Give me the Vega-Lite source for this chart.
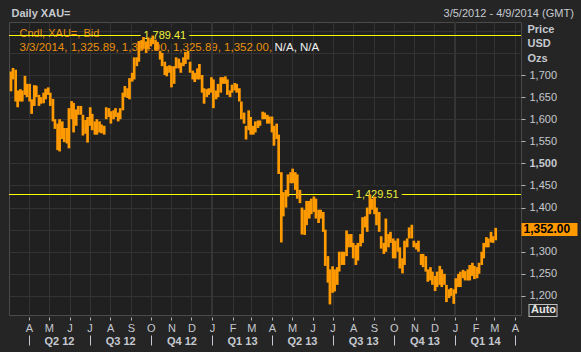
{
  "$schema": "https://vega.github.io/schema/vega-lite/v6.json",
  "width": 512,
  "height": 293,
  "autosize": {"type": "none"},
  "padding": {"left": 9, "top": 22, "right": 60, "bottom": 37},
  "background": "#252525",
  "view": {"fill": "#202020", "stroke": "#4a4a4a", "strokeWidth": 1},
  "config": {"font": "Liberation Sans", "axis": {"labelFont": "Liberation Sans", "titleFont": "Liberation Sans"}, "text": {"font": "Liberation Sans"}},
  "resolve": {"axis": {"x": "independent", "y": "independent"}},
  "datasets": {
    "yr": [{"d": "2013-01-01"}, {"d": "2014-01-01"}],
    "lv": [{"v": 1789.41, "d": "2012-10-22"}, {"v": 1429.51, "d": "2013-09-06"}],
    "px": [
      {"d":"2012-03-05","lo":1663,"hi":1708},{"d":"2012-03-08","lo":1690,"hi":1716},
      {"d":"2012-03-12","lo":1640,"hi":1712},{"d":"2012-03-15","lo":1627,"hi":1665},
      {"d":"2012-03-19","lo":1640,"hi":1668},{"d":"2012-03-22","lo":1640,"hi":1665},
      {"d":"2012-03-26","lo":1655,"hi":1698},{"d":"2012-03-29","lo":1650,"hi":1680},
      {"d":"2012-04-02","lo":1640,"hi":1680},{"d":"2012-04-05","lo":1612,"hi":1645},
      {"d":"2012-04-09","lo":1630,"hi":1677},{"d":"2012-04-12","lo":1650,"hi":1676},
      {"d":"2012-04-16","lo":1630,"hi":1655},{"d":"2012-04-19","lo":1635,"hi":1650},
      {"d":"2012-04-23","lo":1636,"hi":1660},{"d":"2012-04-26","lo":1645,"hi":1669},
      {"d":"2012-04-30","lo":1655,"hi":1672},{"d":"2012-05-03","lo":1630,"hi":1660},
      {"d":"2012-05-07","lo":1595,"hi":1646},{"d":"2012-05-10","lo":1578,"hi":1600},
      {"d":"2012-05-14","lo":1530,"hi":1590},{"d":"2012-05-17","lo":1527,"hi":1600},
      {"d":"2012-05-21","lo":1555,"hi":1595},{"d":"2012-05-24","lo":1548,"hi":1580},
      {"d":"2012-05-28","lo":1545,"hi":1580},{"d":"2012-05-31","lo":1534,"hi":1625},
      {"d":"2012-06-04","lo":1600,"hi":1641},{"d":"2012-06-07","lo":1570,"hi":1637},
      {"d":"2012-06-11","lo":1585,"hi":1622},{"d":"2012-06-14","lo":1610,"hi":1630},
      {"d":"2012-06-18","lo":1610,"hi":1630},{"d":"2012-06-21","lo":1563,"hi":1610},
      {"d":"2012-06-25","lo":1567,"hi":1598},{"d":"2012-06-28","lo":1547,"hi":1605},
      {"d":"2012-07-02","lo":1585,"hi":1627},{"d":"2012-07-05","lo":1575,"hi":1612},
      {"d":"2012-07-09","lo":1565,"hi":1595},{"d":"2012-07-12","lo":1565,"hi":1600},
      {"d":"2012-07-16","lo":1570,"hi":1595},{"d":"2012-07-19","lo":1568,"hi":1588},
      {"d":"2012-07-23","lo":1565,"hi":1585},{"d":"2012-07-26","lo":1600,"hi":1627},
      {"d":"2012-07-30","lo":1605,"hi":1625},{"d":"2012-08-02","lo":1590,"hi":1618},
      {"d":"2012-08-06","lo":1600,"hi":1620},{"d":"2012-08-09","lo":1605,"hi":1625},
      {"d":"2012-08-13","lo":1595,"hi":1615},{"d":"2012-08-16","lo":1600,"hi":1625},
      {"d":"2012-08-20","lo":1620,"hi":1660},{"d":"2012-08-23","lo":1650,"hi":1675},
      {"d":"2012-08-27","lo":1648,"hi":1670},{"d":"2012-08-30","lo":1645,"hi":1693},
      {"d":"2012-09-03","lo":1685,"hi":1705},{"d":"2012-09-06","lo":1690,"hi":1740},
      {"d":"2012-09-10","lo":1720,"hi":1740},{"d":"2012-09-13","lo":1730,"hi":1777},
      {"d":"2012-09-17","lo":1757,"hi":1779},{"d":"2012-09-20","lo":1760,"hi":1786},
      {"d":"2012-09-24","lo":1750,"hi":1776},{"d":"2012-09-27","lo":1760,"hi":1785},
      {"d":"2012-10-01","lo":1765,"hi":1781},{"d":"2012-10-04","lo":1770,"hi":1789.41},
      {"d":"2012-10-08","lo":1755,"hi":1780},{"d":"2012-10-11","lo":1757,"hi":1775},
      {"d":"2012-10-15","lo":1735,"hi":1755},{"d":"2012-10-18","lo":1720,"hi":1750},
      {"d":"2012-10-22","lo":1700,"hi":1730},{"d":"2012-10-25","lo":1697,"hi":1720},
      {"d":"2012-10-29","lo":1705,"hi":1722},{"d":"2012-11-01","lo":1672,"hi":1720},
      {"d":"2012-11-05","lo":1680,"hi":1720},{"d":"2012-11-08","lo":1715,"hi":1740},
      {"d":"2012-11-12","lo":1715,"hi":1737},{"d":"2012-11-15","lo":1705,"hi":1728},
      {"d":"2012-11-19","lo":1720,"hi":1740},{"d":"2012-11-22","lo":1725,"hi":1752},
      {"d":"2012-11-26","lo":1735,"hi":1755},{"d":"2012-11-29","lo":1705,"hi":1730},
      {"d":"2012-12-03","lo":1690,"hi":1710},{"d":"2012-12-06","lo":1684,"hi":1705},
      {"d":"2012-12-10","lo":1690,"hi":1715},{"d":"2012-12-13","lo":1690,"hi":1725},
      {"d":"2012-12-17","lo":1660,"hi":1700},{"d":"2012-12-20","lo":1635,"hi":1670},
      {"d":"2012-12-24","lo":1650,"hi":1668},{"d":"2012-12-27","lo":1655,"hi":1670},
      {"d":"2012-12-31","lo":1660,"hi":1695},{"d":"2013-01-03","lo":1625,"hi":1690},
      {"d":"2013-01-07","lo":1645,"hi":1665},{"d":"2013-01-10","lo":1650,"hi":1680},
      {"d":"2013-01-14","lo":1660,"hi":1695},{"d":"2013-01-17","lo":1680,"hi":1695},
      {"d":"2013-01-21","lo":1680,"hi":1697},{"d":"2013-01-24","lo":1655,"hi":1690},
      {"d":"2013-01-28","lo":1650,"hi":1665},{"d":"2013-01-31","lo":1660,"hi":1678},
      {"d":"2013-02-04","lo":1665,"hi":1682},{"d":"2013-02-07","lo":1660,"hi":1680},
      {"d":"2013-02-11","lo":1640,"hi":1670},{"d":"2013-02-14","lo":1600,"hi":1640},
      {"d":"2013-02-18","lo":1590,"hi":1615},{"d":"2013-02-21","lo":1554,"hi":1585},
      {"d":"2013-02-25","lo":1575,"hi":1620},{"d":"2013-02-28","lo":1565,"hi":1605},
      {"d":"2013-03-04","lo":1565,"hi":1585},{"d":"2013-03-07","lo":1570,"hi":1595},
      {"d":"2013-03-11","lo":1580,"hi":1597},{"d":"2013-03-14","lo":1585,"hi":1597},
      {"d":"2013-03-18","lo":1600,"hi":1617},{"d":"2013-03-21","lo":1600,"hi":1615},
      {"d":"2013-03-25","lo":1590,"hi":1610},{"d":"2013-03-28","lo":1590,"hi":1606},
      {"d":"2013-04-01","lo":1570,"hi":1606},{"d":"2013-04-04","lo":1540,"hi":1585},
      {"d":"2013-04-08","lo":1555,"hi":1590},{"d":"2013-04-11","lo":1476,"hi":1565},
      {"d":"2013-04-15","lo":1321,"hi":1480},{"d":"2013-04-18","lo":1380,"hi":1435},
      {"d":"2013-04-22","lo":1400,"hi":1440},{"d":"2013-04-25","lo":1425,"hi":1475},
      {"d":"2013-04-29","lo":1455,"hi":1480},{"d":"2013-05-02","lo":1455,"hi":1488},
      {"d":"2013-05-06","lo":1440,"hi":1480},{"d":"2013-05-09","lo":1420,"hi":1475},
      {"d":"2013-05-13","lo":1410,"hi":1440},{"d":"2013-05-16","lo":1339,"hi":1400},
      {"d":"2013-05-20","lo":1338,"hi":1395},{"d":"2013-05-23","lo":1360,"hi":1415},
      {"d":"2013-05-27","lo":1375,"hi":1415},{"d":"2013-05-30","lo":1385,"hi":1420},
      {"d":"2013-06-03","lo":1390,"hi":1425},{"d":"2013-06-06","lo":1375,"hi":1420},
      {"d":"2013-06-10","lo":1365,"hi":1395},{"d":"2013-06-13","lo":1375,"hi":1395},
      {"d":"2013-06-17","lo":1345,"hi":1390},{"d":"2013-06-20","lo":1268,"hi":1350},
      {"d":"2013-06-24","lo":1230,"hi":1290},{"d":"2013-06-27","lo":1180.71,"hi":1260},
      {"d":"2013-07-01","lo":1207,"hi":1267},{"d":"2013-07-04","lo":1210,"hi":1260},
      {"d":"2013-07-08","lo":1225,"hi":1265},{"d":"2013-07-11","lo":1255,"hi":1300},
      {"d":"2013-07-15","lo":1270,"hi":1300},{"d":"2013-07-18","lo":1270,"hi":1300},
      {"d":"2013-07-22","lo":1290,"hi":1348},{"d":"2013-07-25","lo":1310,"hi":1340},
      {"d":"2013-07-29","lo":1310,"hi":1340},{"d":"2013-08-01","lo":1285,"hi":1320},
      {"d":"2013-08-05","lo":1270,"hi":1315},{"d":"2013-08-08","lo":1280,"hi":1320},
      {"d":"2013-08-12","lo":1312,"hi":1340},{"d":"2013-08-15","lo":1320,"hi":1378},
      {"d":"2013-08-19","lo":1355,"hi":1380},{"d":"2013-08-22","lo":1345,"hi":1400},
      {"d":"2013-08-26","lo":1385,"hi":1429.51},{"d":"2013-08-29","lo":1395,"hi":1420},
      {"d":"2013-09-02","lo":1385,"hi":1425},{"d":"2013-09-05","lo":1360,"hi":1400},
      {"d":"2013-09-09","lo":1345,"hi":1390},{"d":"2013-09-12","lo":1307,"hi":1335},
      {"d":"2013-09-16","lo":1295,"hi":1320},{"d":"2013-09-19","lo":1300,"hi":1375},
      {"d":"2013-09-23","lo":1310,"hi":1340},{"d":"2013-09-26","lo":1320,"hi":1345},
      {"d":"2013-09-30","lo":1285,"hi":1330},{"d":"2013-10-03","lo":1285,"hi":1325},
      {"d":"2013-10-07","lo":1300,"hi":1330},{"d":"2013-10-10","lo":1262,"hi":1310},
      {"d":"2013-10-14","lo":1251,"hi":1285},{"d":"2013-10-17","lo":1270,"hi":1325},
      {"d":"2013-10-21","lo":1310,"hi":1330},{"d":"2013-10-24","lo":1330,"hi":1355},
      {"d":"2013-10-28","lo":1330,"hi":1361},{"d":"2013-10-31","lo":1310,"hi":1325},
      {"d":"2013-11-04","lo":1305,"hi":1320},{"d":"2013-11-07","lo":1300,"hi":1325},
      {"d":"2013-11-11","lo":1270,"hi":1295},{"d":"2013-11-14","lo":1265,"hi":1295},
      {"d":"2013-11-18","lo":1255,"hi":1290},{"d":"2013-11-21","lo":1232,"hi":1260},
      {"d":"2013-11-25","lo":1235,"hi":1265},{"d":"2013-11-28","lo":1225,"hi":1255},
      {"d":"2013-12-02","lo":1211,"hi":1245},{"d":"2013-12-05","lo":1220,"hi":1255},
      {"d":"2013-12-09","lo":1225,"hi":1268},{"d":"2013-12-12","lo":1220,"hi":1260},
      {"d":"2013-12-16","lo":1225,"hi":1250},{"d":"2013-12-19","lo":1186,"hi":1225},
      {"d":"2013-12-23","lo":1195,"hi":1215},{"d":"2013-12-26","lo":1200,"hi":1218},
      {"d":"2013-12-30","lo":1182,"hi":1215},{"d":"2014-01-02","lo":1205,"hi":1240},
      {"d":"2014-01-06","lo":1220,"hi":1250},{"d":"2014-01-09","lo":1220,"hi":1255},
      {"d":"2014-01-13","lo":1240,"hi":1259},{"d":"2014-01-16","lo":1235,"hi":1256},
      {"d":"2014-01-20","lo":1235,"hi":1260},{"d":"2014-01-23","lo":1235,"hi":1270},
      {"d":"2014-01-27","lo":1245,"hi":1275},{"d":"2014-01-30","lo":1238,"hi":1268},
      {"d":"2014-02-03","lo":1240,"hi":1265},{"d":"2014-02-06","lo":1250,"hi":1275},
      {"d":"2014-02-10","lo":1270,"hi":1300},{"d":"2014-02-13","lo":1285,"hi":1320},
      {"d":"2014-02-17","lo":1310,"hi":1333},{"d":"2014-02-20","lo":1310,"hi":1330},
      {"d":"2014-02-24","lo":1321,"hi":1345},{"d":"2014-02-27","lo":1320,"hi":1335},
      {"d":"2014-03-03","lo":1325.89,"hi":1354}
    ]
  },
  "layer": [
    {
      "data": {"name": "yr"},
      "mark": {"type": "rule", "color": "#363636", "strokeWidth": 2},
      "encoding": {
        "x": {
          "field": "d", "type": "temporal",
          "scale": {"type": "utc", "nice": false, "domain": [{"year": 2012, "month": 3, "date": 2, "utc": true}, {"year": 2014, "month": 4, "date": 10, "utc": true}]},
          "axis": {
            "orient": "bottom", "tickCount": {"interval": "month", "step": 1},
            "labelExpr": "substring(utcFormat(datum.value, '%b'), 0, 1)",
            "grid": true, "gridColor": "#333333", "domain": false, "offset": 2,
            "ticks": true, "tickSize": 3, "tickColor": "#b0b5be", "labelPadding": 2,
            "labelColor": "#c5c9d0", "labelFontSize": 11, "labelOverlap": false, "labelFlush": false, "labelBound": false,
            "title": "Cndl, XAU=, Bid", "titleX": 10, "titleY": -281, "titleAlign": "left", "titleBaseline": "alphabetic",
            "titleColor": "#e8900c", "titleFontSize": 11, "titleFontWeight": "normal", "zindex": 0
          }
        }
      }
    },
    {
      "data": {"name": "lv"},
      "mark": {"type": "rule", "color": "#ffff00", "strokeWidth": 1},
      "encoding": {
        "y": {
          "field": "v", "type": "quantitative",
          "scale": {"domain": [1156.76, 1819.97], "zero": false, "nice": false},
          "axis": {
            "orient": "right", "values": [1200, 1250, 1300, 1350, 1400, 1450, 1500, 1550, 1600, 1650, 1700, 1750, 1800],
            "format": ",.0f", "grid": true, "gridColor": "#333333", "domain": false,
            "tickSize": 4, "tickColor": "#b0b5be", "labelPadding": 4, "labelColor": "#c5c9d0", "labelFontSize": 11,
            "labelFontWeight": {"condition": {"test": "datum.value == 1500", "value": "bold"}, "value": "normal"},
            "labelOpacity": {"condition": {"test": "datum.value > 1700 || datum.value == 1350", "value": 0}, "value": 1},
            "tickOpacity": {"condition": {"test": "datum.value > 1700 || datum.value == 1350", "value": 0}, "value": 1},
            "labelOverlap": false, "labelFlush": false, "labelBound": false,
            "title": ["Price", "USD", "Ozs"], "titleAngle": 0, "titleX": 6, "titleY": 10, "titleAlign": "left",
            "titleBaseline": "alphabetic", "titleFontWeight": "bold", "titleFontSize": 11, "titleColor": "#c5c9d0",
            "titleLineHeight": 14.5, "zindex": 0
          }
        }
      }
    },
    {
      "data": {"name": "lv"},
      "mark": {"type": "text", "fontSize": 11, "baseline": "middle", "align": "center", "fill": "#202020", "stroke": "#202020", "strokeWidth": 9, "strokeJoin": "round"},
      "encoding": {
        "x": {
          "field": "d", "type": "temporal",
          "scale": {"type": "utc", "nice": false, "domain": [{"year": 2012, "month": 3, "date": 2, "utc": true}, {"year": 2014, "month": 4, "date": 10, "utc": true}]},
          "axis": {
            "orient": "bottom", "offset": 20,
            "values": [{"year": 2012, "month": 5, "date": 16, "utc": true}, {"year": 2012, "month": 8, "date": 16, "utc": true}, {"year": 2012, "month": 11, "date": 16, "utc": true}, {"year": 2013, "month": 2, "date": 15, "utc": true}, {"year": 2013, "month": 5, "date": 16, "utc": true}, {"year": 2013, "month": 8, "date": 16, "utc": true}, {"year": 2013, "month": 11, "date": 16, "utc": true}, {"year": 2014, "month": 2, "date": 15, "utc": true}],
            "labelExpr": "'Q' + (floor(utcmonth(datum.value) / 3) + 1) + ' ' + utcFormat(datum.value, '%y')",
            "ticks": false, "tickSize": 0, "labelPadding": 0, "domain": false, "grid": false,
            "labelFontWeight": "bold", "labelFontSize": 11, "labelColor": "#c5c9d0",
            "labelFlush": false, "labelOverlap": false, "labelBound": false,
            "title": "3/3/2014, 1,325.89, 1,354.00, 1,325.89, 1,352.00,", "titleX": 10, "titleY": -285,
            "titleAlign": "left", "titleBaseline": "alphabetic", "titleColor": "#e8900c", "titleFontSize": 11.5,
            "titleFontWeight": "normal", "zindex": 0
          }
        },
        "y": {
          "field": "v", "type": "quantitative",
          "scale": {"domain": [1156.76, 1819.97], "zero": false, "nice": false},
          "axis": {
            "orient": "right", "values": [1352], "format": ",.2f", "grid": false, "domain": false,
            "tickSize": 56, "tickWidth": 13, "tickColor": "#ff9900", "labelPadding": -54,
            "labelColor": "#000000", "labelFontSize": 12, "labelFontWeight": "bold",
            "labelFlush": false, "labelOverlap": false, "labelBound": false,
            "title": "3/5/2012 - 4/9/2014 (GMT)", "titleAngle": 0, "titleX": 52.3, "titleY": -6,
            "titleAlign": "right", "titleBaseline": "alphabetic", "titleFontWeight": "normal",
            "titleFontSize": 11, "titleColor": "#c5c9d0", "zindex": 1
          }
        },
        "text": {"field": "v", "type": "quantitative", "format": ",.2f"}
      }
    },
    {
      "data": {"name": "lv"},
      "mark": {"type": "text", "fontSize": 11, "baseline": "middle", "align": "center", "fill": "#eef03a"},
      "encoding": {
        "x": {
          "field": "d", "type": "temporal",
          "scale": {"type": "utc", "nice": false, "domain": [{"year": 2012, "month": 3, "date": 2, "utc": true}, {"year": 2014, "month": 4, "date": 10, "utc": true}]},
          "axis": {
            "orient": "bottom", "offset": 20,
            "values": [{"year": 2012, "month": 4, "date": 1, "utc": true}, {"year": 2012, "month": 7, "date": 1, "utc": true}, {"year": 2012, "month": 10, "date": 1, "utc": true}, {"year": 2013, "month": 1, "date": 1, "utc": true}, {"year": 2013, "month": 4, "date": 1, "utc": true}, {"year": 2013, "month": 7, "date": 1, "utc": true}, {"year": 2013, "month": 10, "date": 1, "utc": true}, {"year": 2014, "month": 1, "date": 1, "utc": true}, {"year": 2014, "month": 4, "date": 1, "utc": true}],
            "labels": false, "ticks": true, "tickSize": 10, "tickColor": "#c5c9d0", "domain": false, "grid": false,
            "title": "N/A, N/A", "titleX": 265, "titleY": -285, "titleAlign": "left", "titleBaseline": "alphabetic",
            "titleColor": "#f0f0f0", "titleFontSize": 11.5, "titleFontWeight": "normal", "zindex": 0
          }
        },
        "y": {
          "field": "v", "type": "quantitative",
          "scale": {"domain": [1156.76, 1819.97], "zero": false, "nice": false},
          "axis": {
            "orient": "right", "offset": 7, "values": [1168.5], "labels": false, "grid": false, "domain": false,
            "tickSize": 29, "tickWidth": 13, "tickColor": "#c0c0c0",
            "title": "Daily XAU=", "titleAngle": 0, "titleX": -517, "titleY": -6, "titleAlign": "left",
            "titleBaseline": "alphabetic", "titleFontWeight": "bold", "titleFontSize": 11, "titleColor": "#c5c9d0", "zindex": 1
          }
        },
        "text": {"field": "v", "type": "quantitative", "format": ",.2f"}
      }
    },
    {
      "data": {"name": "px"},
      "mark": {"type": "rule", "color": "#ff9a00", "strokeWidth": 2.7},
      "encoding": {
        "x": {
          "field": "d", "type": "temporal",
          "scale": {"type": "utc", "nice": false, "domain": [{"year": 2012, "month": 3, "date": 2, "utc": true}, {"year": 2014, "month": 4, "date": 10, "utc": true}]},
          "axis": null
        },
        "y": {
          "field": "lo", "type": "quantitative",
          "scale": {"domain": [1156.76, 1819.97], "zero": false, "nice": false},
          "axis": {
            "orient": "right", "offset": 8, "values": [1168.5], "labelExpr": "'Auto'", "grid": false, "domain": false,
            "tickSize": 27, "tickWidth": 11, "tickColor": "#252525", "labelPadding": -25.5,
            "labelColor": "#e6e6e6", "labelFontSize": 11, "labelFontWeight": "bold",
            "labelFlush": false, "labelOverlap": false, "labelBound": false, "title": null, "zindex": 1
          }
        },
        "y2": {"field": "hi"}
      }
    }
  ]
}
